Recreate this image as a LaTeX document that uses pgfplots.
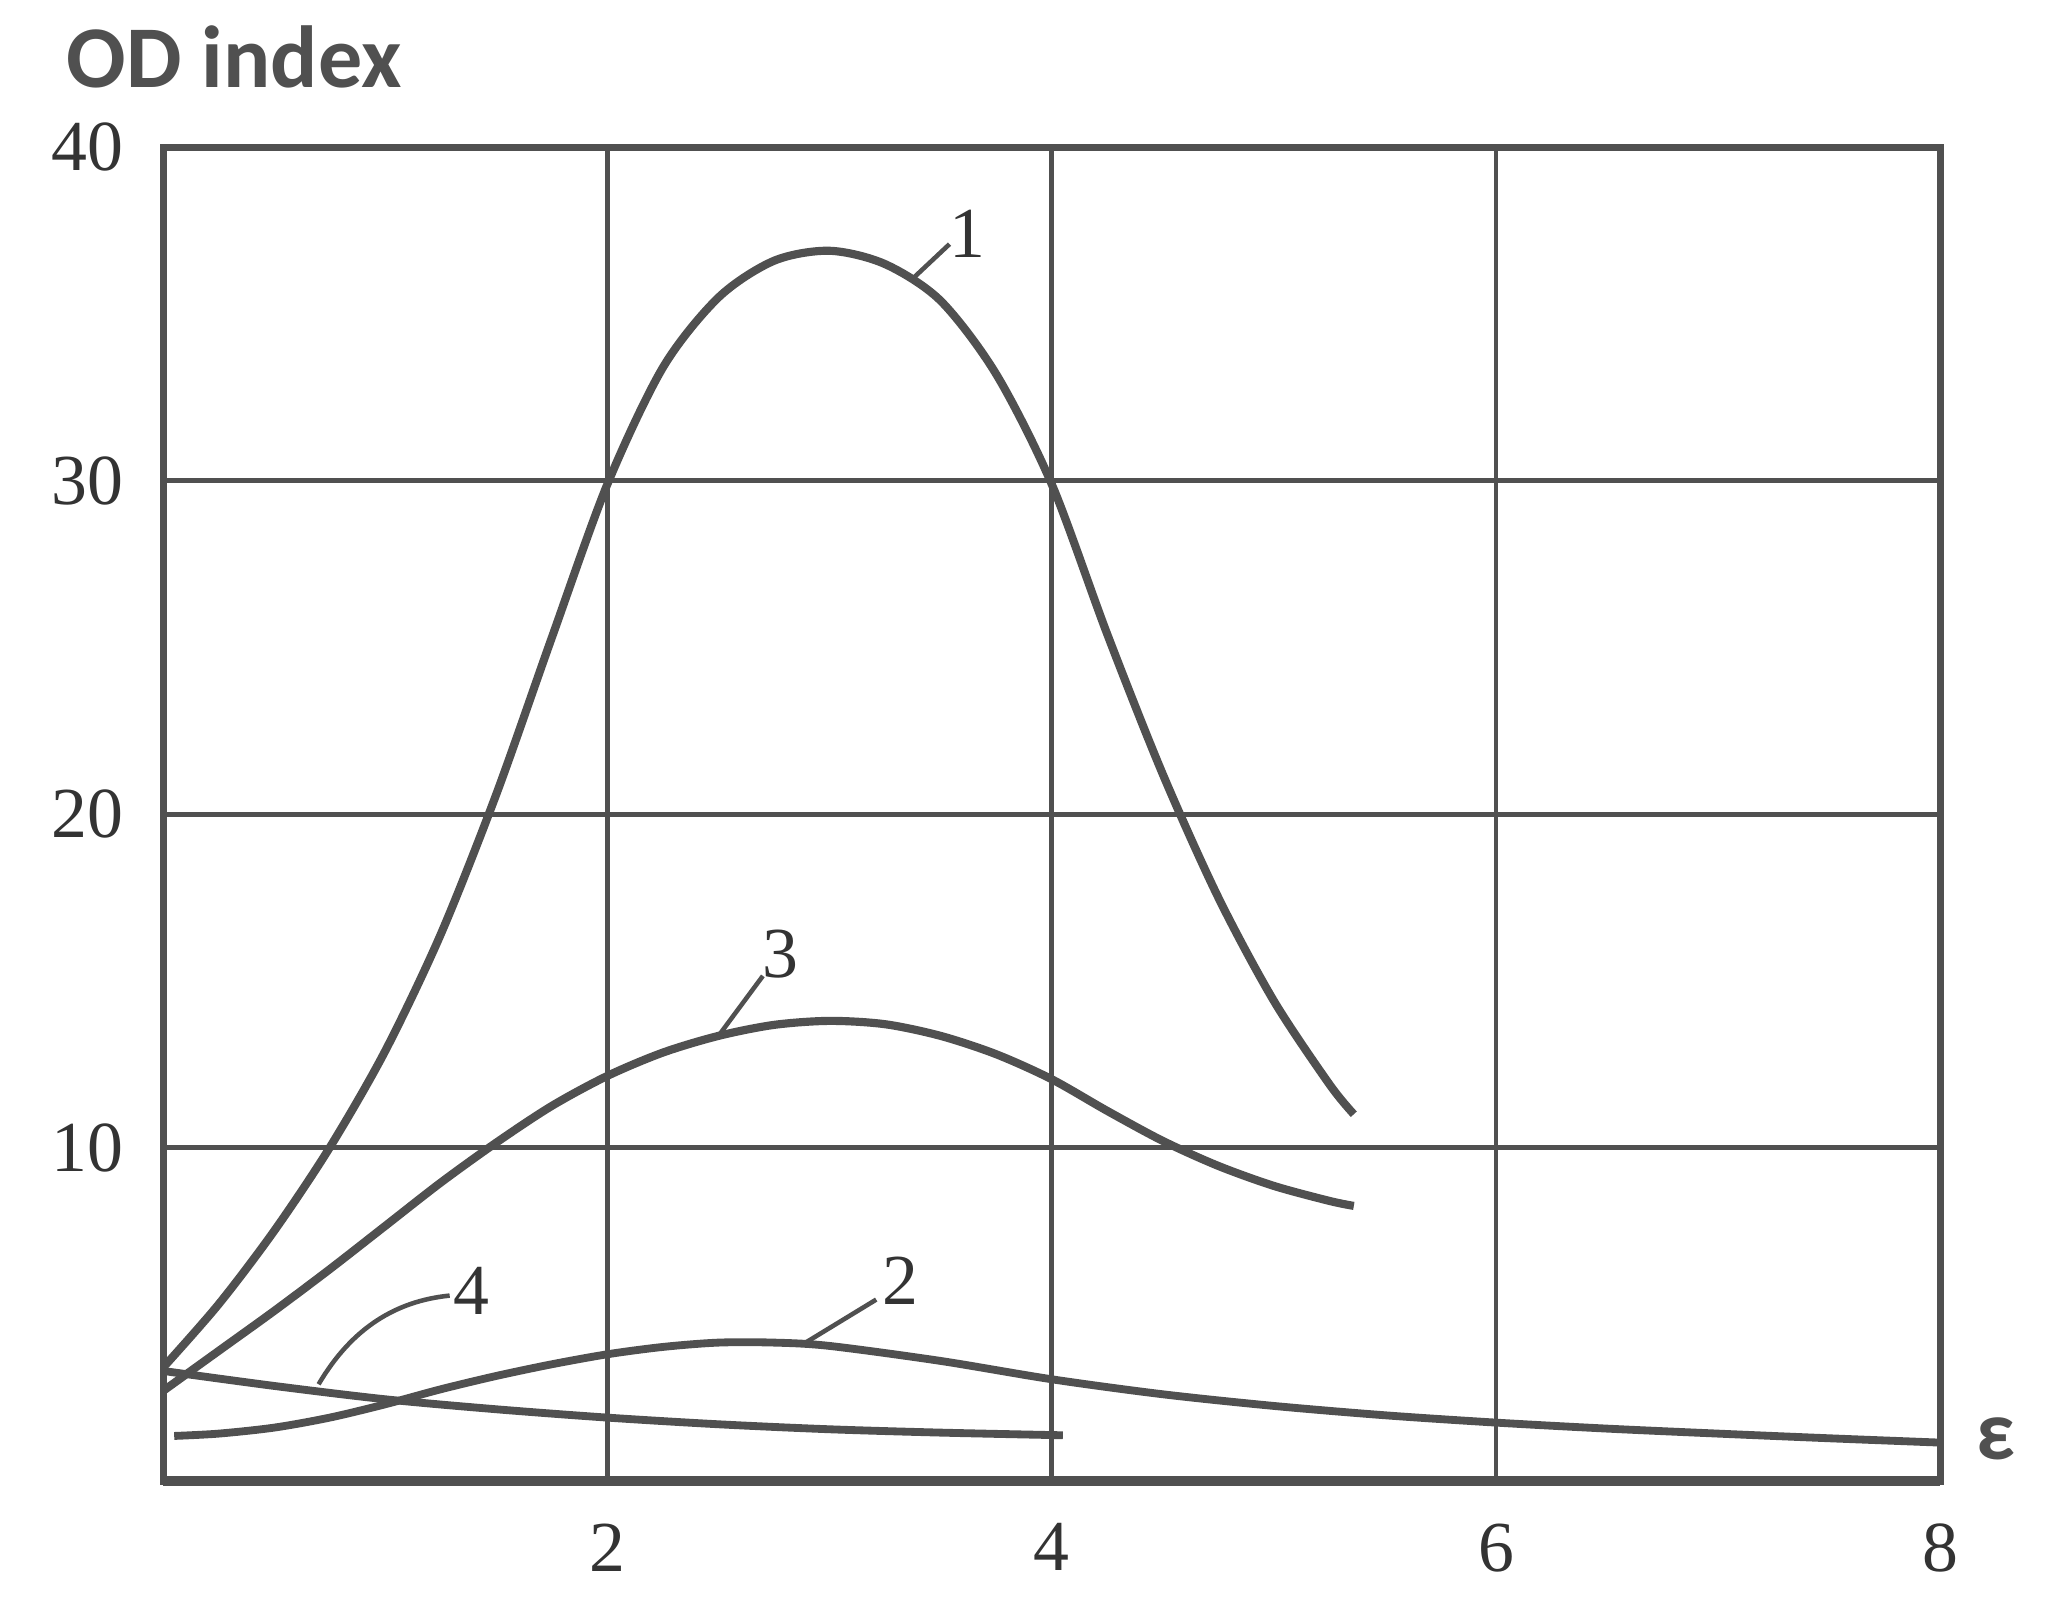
\documentclass[border=0pt]{standalone}
\usepackage{fontspec}
\setmainfont{Liberation Serif}
\newfontfamily\labfont{Carlito}
\usepackage{pgfplots}
\pgfplotsset{compat=1.18}
\definecolor{ink}{RGB}{80,80,80}
\begin{document}
\begin{tikzpicture}
\begin{axis}[
  scale only axis,
  width=272.4pt, height=204.4pt,
  xmin=0, xmax=8, ymin=0, ymax=40,
  xtick={2,4,6,8}, ytick={10,20,30,40},
  grid=major,
  major grid style={ink, line width=0.75pt},
  axis line style={ink, line width=1.1pt},
  major tick length=0pt,
  tick label style={font=\fontsize{11}{13}\selectfont, text=black!80},
  /pgf/number format/assume math mode=true,
  xticklabel style={yshift=-3pt},
  yticklabel style={xshift=-2.5pt},
  clip=false,
]
% curve 1
\addplot[ink, line width=1.25pt, smooth, no markers] coordinates {
  (0,3.4) (0.25,5.3) (0.5,7.5) (0.75,10.0) (1,12.9) (1.25,16.4) (1.5,20.6)
  (1.75,25.3) (2,29.9) (2.25,33.4) (2.5,35.5) (2.75,36.6) (3,36.9)
  (3.25,36.5) (3.5,35.4) (3.75,33.2) (4,29.9) (4.25,25.4) (4.5,21.2)
  (4.75,17.5) (5,14.4) (5.25,11.9) (5.36,11.0)
};
% curve 3
\addplot[ink, line width=1.25pt, smooth, no markers] coordinates {
  (0,2.7) (0.25,3.9) (0.5,5.1) (0.75,6.35) (1,7.65) (1.25,8.95) (1.5,10.15)
  (1.75,11.25) (2,12.15) (2.25,12.85) (2.5,13.35) (2.75,13.68) (3,13.8)
  (3.25,13.7) (3.5,13.35) (3.75,12.8) (4,12.05) (4.25,11.1) (4.5,10.2)
  (4.75,9.45) (5,8.85) (5.25,8.4) (5.36,8.25)
};
% curve 2
\addplot[ink, line width=1.2pt, smooth, no markers] coordinates {
  (0.05,1.35) (0.25,1.42) (0.5,1.6) (0.75,1.9) (1,2.3) (1.25,2.75)
  (1.5,3.15) (1.75,3.5) (2,3.8) (2.25,4.02) (2.5,4.15) (2.75,4.15) (3,4.05)
  (3.5,3.6) (4,3.05) (4.5,2.6) (5,2.25) (5.5,1.97) (6,1.75) (6.5,1.57)
  (7,1.42) (7.5,1.28) (8,1.15)
};
% curve 4
\addplot[ink, line width=1.2pt, smooth, no markers] coordinates {
  (0,3.3) (0.5,2.85) (1,2.45) (1.5,2.15) (2,1.9) (2.5,1.7) (3,1.55)
  (3.5,1.45) (4.05,1.37)
};
\draw[ink, line width=1.6pt] (rel axis cs:0,0) -- (rel axis cs:1,0);
% leaders and curve numbers
\draw[ink, line width=0.7pt] (axis cs:3.38,36.1) -- (axis cs:3.54,37.1);
\node[font=\fontsize{11}{13}\selectfont, text=black!80] at (axis cs:3.62,37.4) {1};
\draw[ink, line width=0.7pt] (axis cs:2.50,13.35) -- (axis cs:2.70,15.15);
\node[font=\fontsize{11}{13}\selectfont, text=black!80] at (axis cs:2.78,15.8) {3};
\draw[ink, line width=0.7pt] (axis cs:2.88,4.1) -- (axis cs:3.21,5.44);
\node[font=\fontsize{11}{13}\selectfont, text=black!80] at (axis cs:3.32,6.0) {2};
\draw[ink, line width=0.7pt] (axis cs:0.70,2.9) .. controls (axis cs:0.85,4.6) and (axis cs:1.05,5.4) .. (axis cs:1.29,5.56);
\node[font=\fontsize{11}{13}\selectfont, text=black!80] at (axis cs:1.39,5.7) {4};
% axis titles
\node[font=\labfont\bfseries\fontsize{13.5}{15}\selectfont, text=ink] at (axis cs:0.32,42.7) {OD index};
\node[font=\labfont\bfseries\fontsize{13}{15}\selectfont, text=ink] at (axis cs:8.25,1.25) {ε};
\coordinate (bl) at (rel axis cs:0,0);
\coordinate (tr) at (rel axis cs:1,1);
\end{axis}
\path[draw=none] ([xshift=-25pt, yshift=-20.4pt]bl) rectangle ([xshift=16.2pt, yshift=22.6pt]tr);
\end{tikzpicture}
\end{document}
